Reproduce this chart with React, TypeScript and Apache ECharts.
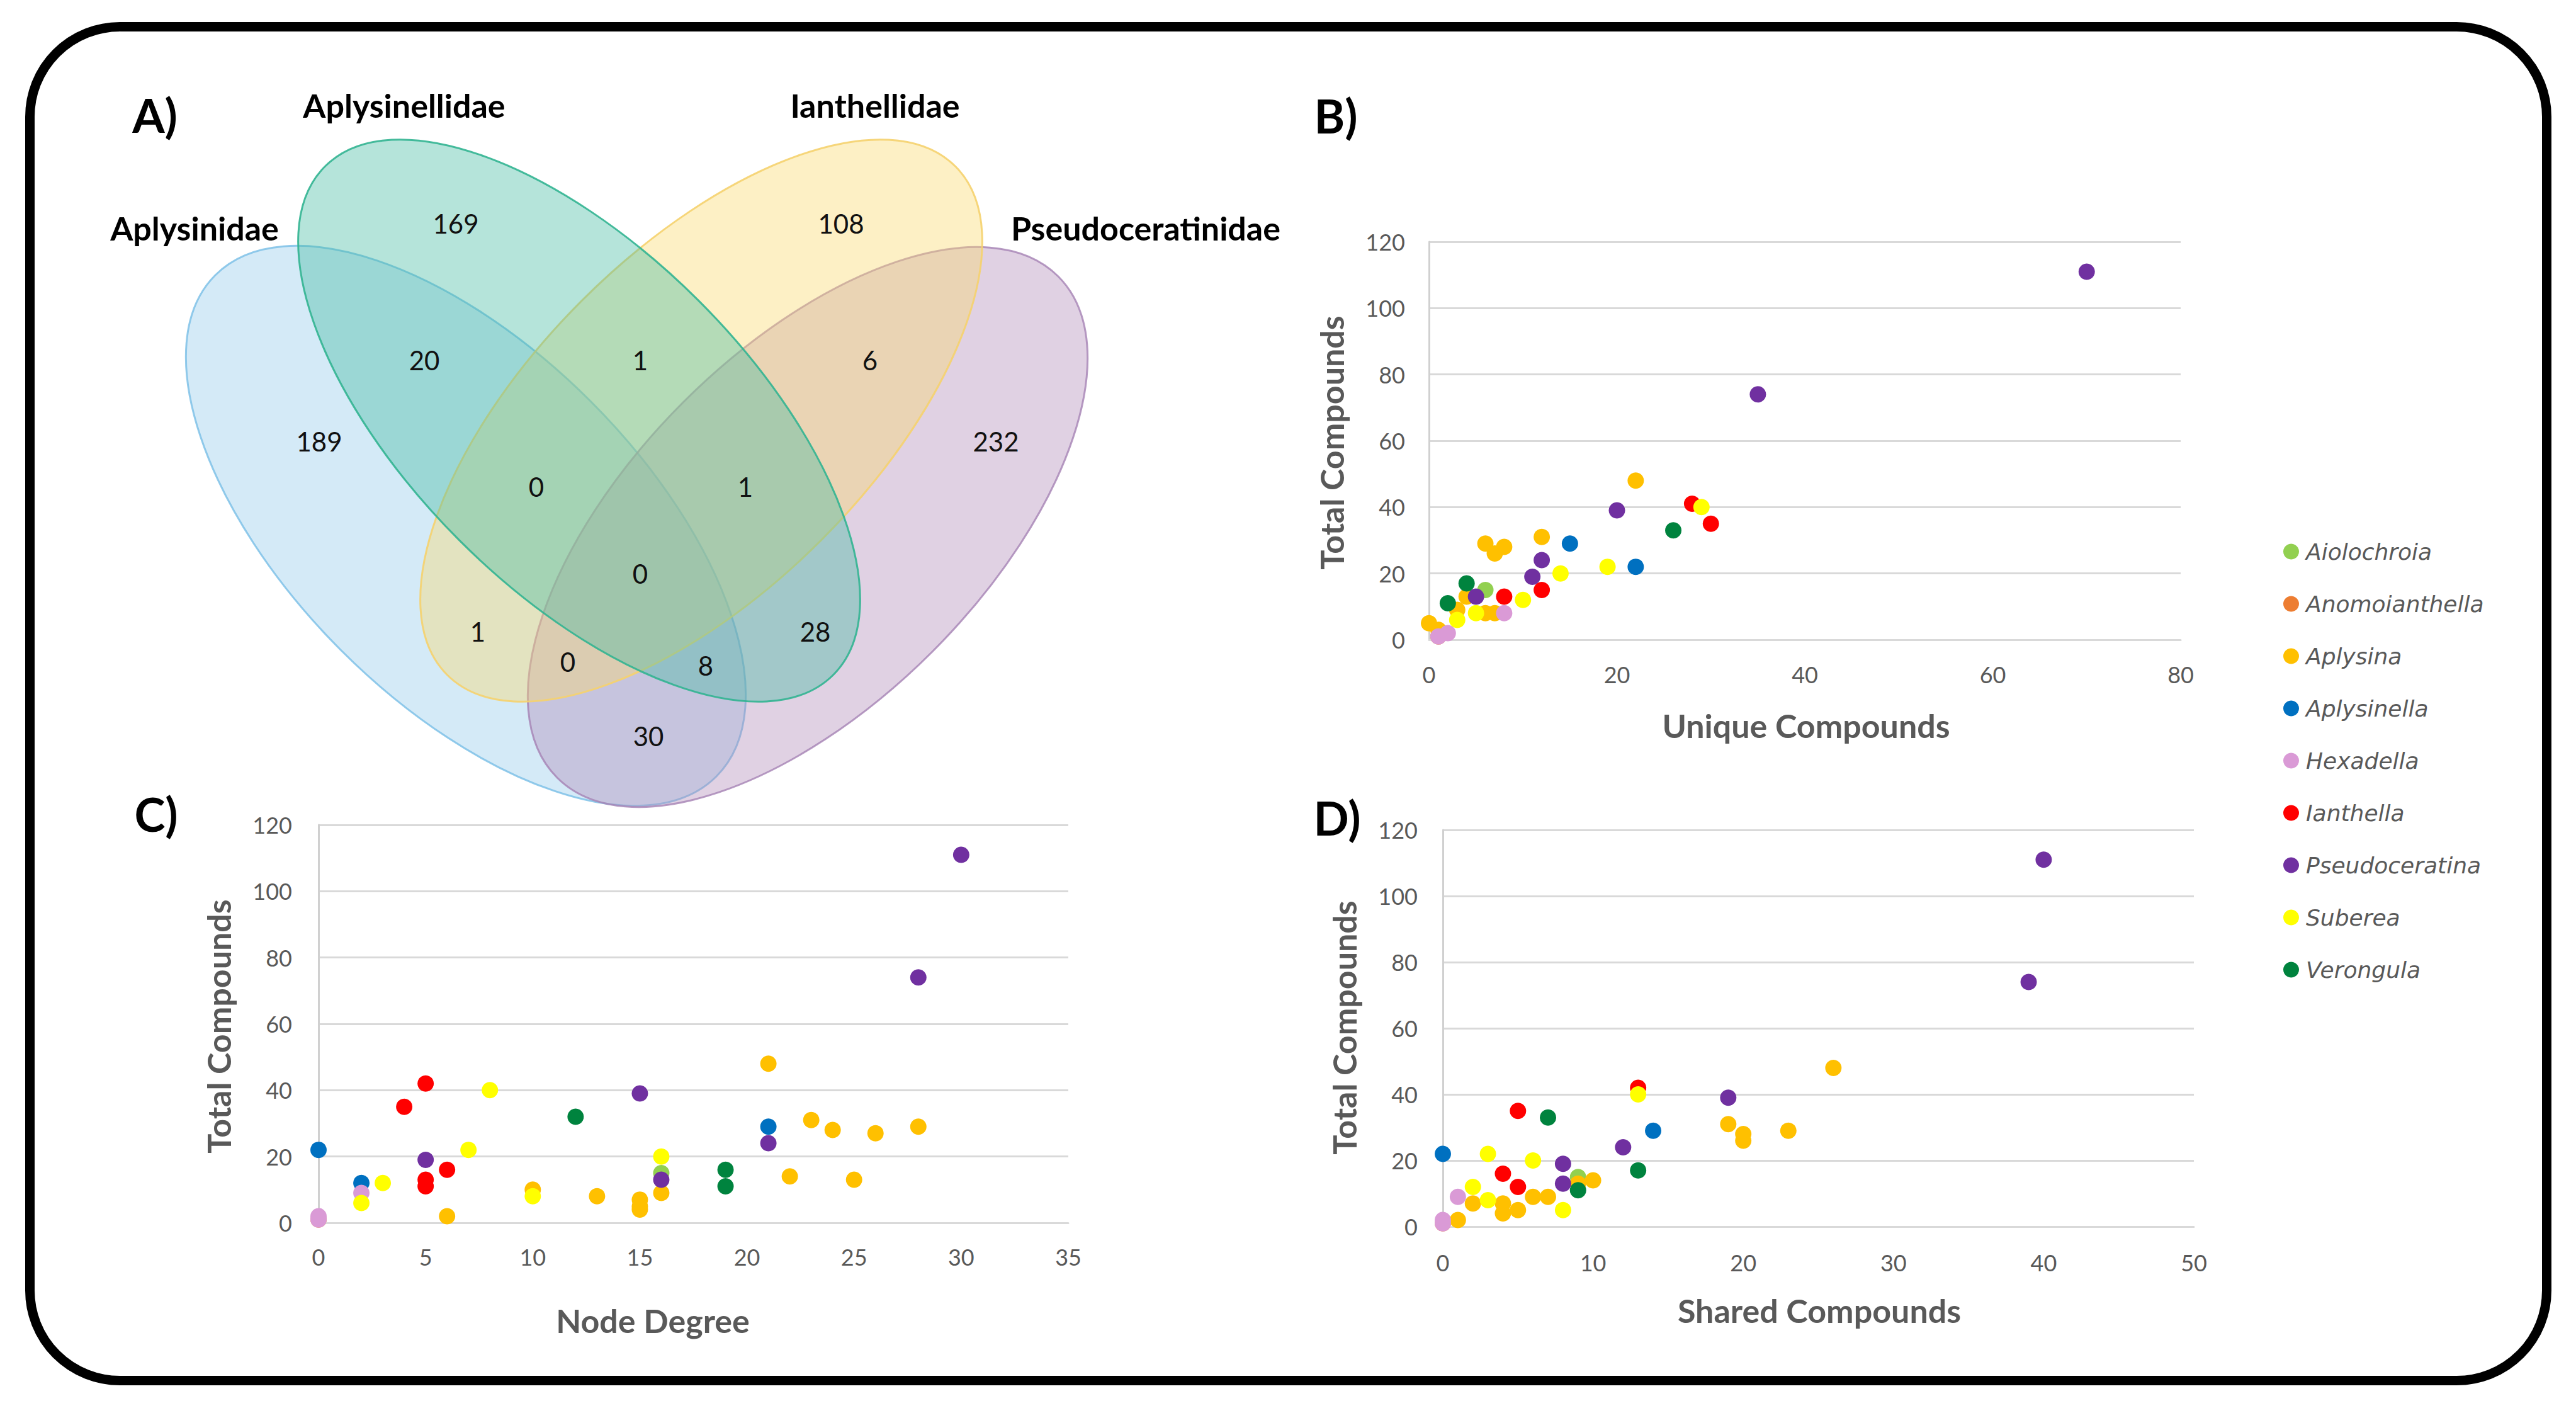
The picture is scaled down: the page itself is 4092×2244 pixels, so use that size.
import React, { useEffect, useRef } from 'react';
import * as echarts from 'echarts';

const W = 4092;
const H = 2244;

// ---------- legend / genera ----------
const genera = ['Aiolochroia', 'Anomoianthella', 'Aplysina', 'Aplysinella', 'Hexadella', 'Ianthella', 'Pseudoceratina', 'Suberea', 'Verongula'];
const generaColors = ['#92D050', '#ED7D31', '#FFC000', '#0070C0', '#DA9AD6', '#FF0000', '#7030A0', '#FFFF00', '#00833E'];

// ---------- Panel B: Unique vs Total compounds ----------
const bAiolochroia = [[6, 15]];
const bAnomoianthella = [[1, 1]];
const bAplysina = [[22, 48], [12, 31], [6, 29], [8, 28], [7, 26], [4, 13], [3, 9], [6, 8], [7, 8], [0, 5], [1, 3]];
const bAplysinella = [[15, 29], [22, 22]];
const bHexadella = [[8, 8], [1, 1], [2, 2]];
const bIanthella = [[28, 41], [30, 35], [12, 15], [8, 13]];
const bPseudoceratina = [[70, 111], [35, 74], [20, 39], [12, 24], [11, 19], [5, 13]];
const bSuberea = [[29, 40], [19, 22], [14, 20], [10, 12], [5, 8], [3, 6]];
const bVerongula = [[26, 33], [4, 17], [2, 11]];

// ---------- Panel C: Node degree vs Total compounds ----------
const cAiolochroia = [[16, 15]];
const cAnomoianthella = [[0, 1]];
const cAplysina = [[21, 48], [23, 31], [28, 29], [24, 28], [26, 27], [22, 14], [25, 13], [16, 9], [10, 10], [13, 8], [15, 7], [15, 5], [15, 4], [6, 2]];
const cAplysinella = [[0, 22], [21, 29], [2, 12]];
const cHexadella = [[2, 9], [0, 2], [0, 1]];
const cIanthella = [[5, 42], [4, 35], [6, 16], [5, 13], [5, 11]];
const cPseudoceratina = [[30, 111], [28, 74], [15, 39], [21, 24], [5, 19], [16, 13]];
const cSuberea = [[8, 40], [7, 22], [16, 20], [3, 12], [10, 8], [2, 6]];
const cVerongula = [[12, 32], [19, 16], [19, 11]];

// ---------- Panel D: Shared vs Total compounds ----------
const dAiolochroia = [[9, 15]];
const dAnomoianthella = [[0, 1]];
const dAplysina = [[26, 48], [19, 31], [20, 28], [20, 26], [23, 29], [9, 13], [10, 14], [2, 7], [4, 7], [4, 4], [5, 5], [6, 9], [7, 9], [1, 2]];
const dAplysinella = [[0, 22], [14, 29]];
const dHexadella = [[1, 9], [0, 2], [0, 1]];
const dIanthella = [[13, 42], [5, 35], [4, 16], [5, 12]];
const dPseudoceratina = [[40, 111], [39, 74], [19, 39], [12, 24], [8, 19], [8, 13]];
const dSuberea = [[13, 40], [3, 22], [6, 20], [2, 12], [3, 8], [8, 5]];
const dVerongula = [[7, 33], [13, 17], [9, 11]];

// ---------- axes ----------
const yTicks = [0, 20, 40, 60, 80, 100, 120];
const bXTicks = [0, 20, 40, 60, 80];
const cXTicks = [0, 5, 10, 15, 20, 25, 30, 35];
const dXTicks = [0, 10, 20, 30, 40, 50];

// ---------- Venn (panel A) ----------
const vennSets = ['Aplysinidae', 'Aplysinellidae', 'Ianthellidae', 'Pseudoceratinidae'];
const vennCounts = [189, 169, 108, 232, 20, 1, 6, 0, 1, 0, 1, 28, 0, 8, 30];

const panelB = [bAiolochroia, bAnomoianthella, bAplysina, bAplysinella, bHexadella, bIanthella, bPseudoceratina, bSuberea, bVerongula];
const panelC = [cAiolochroia, cAnomoianthella, cAplysina, cAplysinella, cHexadella, cIanthella, cPseudoceratina, cSuberea, cVerongula];
const panelD = [dAiolochroia, dAnomoianthella, dAplysina, dAplysinella, dHexadella, dIanthella, dPseudoceratina, dSuberea, dVerongula];

const GREY = '#595959';
const TICK_FONT = 'Lato';

function buildOption() {
  const grids = [
    { left: 2270, top: 384, width: 1194, height: 632 },
    { left: 506, top: 1310, width: 1191, height: 632 },
    { left: 2292, top: 1318, width: 1193, height: 630 },
  ];
  const xTickSets = [bXTicks, cXTicks, dXTicks];
  const xMargins = [37, 36, 39];
  const yMargins = [38, 42, 40];

  const xAxis = xTickSets.map((t, i) => ({
    type: 'value',
    gridIndex: i,
    min: t[0],
    max: t[t.length - 1],
    interval: t[1] - t[0],
    axisLine: { show: true, onZero: false, lineStyle: { color: '#d9d9d9', width: 3 } },
    axisTick: { show: false },
    splitLine: { show: false },
    axisLabel: { color: GREY, fontSize: 36, fontFamily: TICK_FONT, margin: xMargins[i] },
  }));
  const yAxis = [0, 1, 2].map((i) => ({
    type: 'value',
    gridIndex: i,
    min: yTicks[0],
    max: yTicks[yTicks.length - 1],
    interval: yTicks[1] - yTicks[0],
    axisLine: { show: true, onZero: false, lineStyle: { color: '#d0d0d0', width: 3 } },
    axisTick: { show: false },
    splitLine: { show: true, lineStyle: { color: '#d9d9d9', width: 3 } },
    axisLabel: { color: GREY, fontSize: 36, fontFamily: TICK_FONT, margin: yMargins[i] },
  }));

  const series: any[] = [];
  [panelB, panelC, panelD].forEach((panel, pi) => {
    panel.forEach((data, gi) => {
      series.push({
        type: 'scatter',
        name: genera[gi],
        xAxisIndex: pi,
        yAxisIndex: pi,
        data,
        symbol: 'circle',
        symbolSize: 26,
        itemStyle: { color: generaColors[gi], opacity: 1 },
        silent: true,
        z: 2 + gi,
      });
    });
  });

  // Venn layout (drawing order: Aplysinidae, Pseudoceratinidae, Ianthellidae, Aplysinellidae)
  const ellipses = [
    { cx: 740, cy: 835, rx: 563, ry: 280, rot: -Math.PI / 4, fill: 'rgba(147,202,235,0.4)', stroke: 'rgba(120,190,230,0.8)', z: 5 },
    { cx: 920, cy: 668, rx: 571, ry: 269, rot: -Math.PI / 4, fill: 'rgba(70,187,162,0.4)', stroke: 'rgba(50,180,145,0.9)', z: 8 },
    { cx: 1114, cy: 668, rx: 571, ry: 269, rot: Math.PI / 4, fill: 'rgba(250,217,110,0.4)', stroke: 'rgba(245,210,110,0.9)', z: 7 },
    { cx: 1283, cy: 837, rx: 563, ry: 280, rot: Math.PI / 4, fill: 'rgba(177,140,185,0.4)', stroke: 'rgba(165,130,180,0.8)', z: 6 },
  ];
  const setLabelPos = [
    [309, 362],
    [642, 167],
    [1390, 167],
    [1820, 362],
  ];
  const countPos = [
    [507, 701], [724, 355], [1336, 355], [1582, 701], [674, 572], [1017, 572], [1382, 572],
    [852, 773], [1184, 773], [1017, 911], [759, 1003], [1295, 1003], [902, 1051], [1121, 1057], [1030, 1169],
  ];

  const text = (t: string, x: number, y: number, size: number, weight: string, color: string, family = 'Lato', rotation = 0) => ({
    type: 'text',
    x,
    y,
    rotation,
    z: 20,
    style: {
      text: t,
      fill: color,
      fontSize: size,
      fontWeight: weight,
      fontFamily: family,
      align: 'center',
      verticalAlign: 'middle',
      textAlign: 'center',
      textVerticalAlign: 'middle',
    },
  });

  const graphic: any[] = [
    {
      type: 'rect',
      z: 1,
      shape: { x: 47.5, y: 42.5, width: 3998, height: 2150, r: 143 },
      style: { fill: 'none', stroke: '#000000', lineWidth: 15 },
    },
    ...ellipses.map((e) => ({
      type: 'ellipse',
      x: e.cx,
      y: e.cy,
      rotation: e.rot,
      z: e.z,
      shape: { cx: 0, cy: 0, rx: e.rx, ry: e.ry },
      style: { fill: e.fill, stroke: e.stroke, lineWidth: 3 },
    })),
    ...vennSets.map((s, i) => text(s, setLabelPos[i][0], setLabelPos[i][1], 52, 'bold', '#000000')),
    ...vennCounts.map((c, i) => text(String(c), countPos[i][0], countPos[i][1], 42, 'normal', '#111111')),
    text('A)', 246, 182, 74, 'bold', '#000000'),
    text('B)', 2122, 183, 74, 'bold', '#000000'),
    text('C)', 248, 1292, 74, 'bold', '#000000'),
    text('D)', 2124, 1298, 74, 'bold', '#000000'),
    text('Unique Compounds', 2869, 1152, 52, 'bold', GREY),
    text('Node Degree', 1037, 2097, 52, 'bold', GREY),
    text('Shared Compounds', 2890, 2081, 52, 'bold', GREY),
    text('Total Compounds', 2115, 703, 52, 'bold', GREY, 'Lato', Math.PI / 2),
    text('Total Compounds', 347, 1630, 52, 'bold', GREY, 'Lato', Math.PI / 2),
    text('Total Compounds', 2135, 1632, 52, 'bold', GREY, 'Lato', Math.PI / 2),
  ];

  return {
    animation: false,
    backgroundColor: '#ffffff',
    grid: grids.map((g) => ({ ...g, containLabel: false })),
    xAxis,
    yAxis,
    legend: {
      data: genera,
      orient: 'vertical',
      left: 3622,
      top: 853,
      itemWidth: 25,
      itemHeight: 25,
      itemGap: 47,
      icon: 'circle',
      selectedMode: false,
      textStyle: { color: GREY, fontSize: 36, fontStyle: 'italic', fontFamily: 'DejaVu Sans', lineHeight: 25, padding: [0, 0, 0, 6] },
    },
    series,
    graphic,
  };
}

export default function App() {
  const ref = useRef<HTMLDivElement>(null);
  useEffect(() => {
    document.body.style.margin = '0';
    const chart = echarts.init(ref.current as HTMLDivElement, null, { renderer: 'svg', width: W, height: H });
    chart.setOption(buildOption() as any);
    return () => chart.dispose();
  }, []);
  return <div ref={ref} style={{ width: W, height: H }} />;
}
